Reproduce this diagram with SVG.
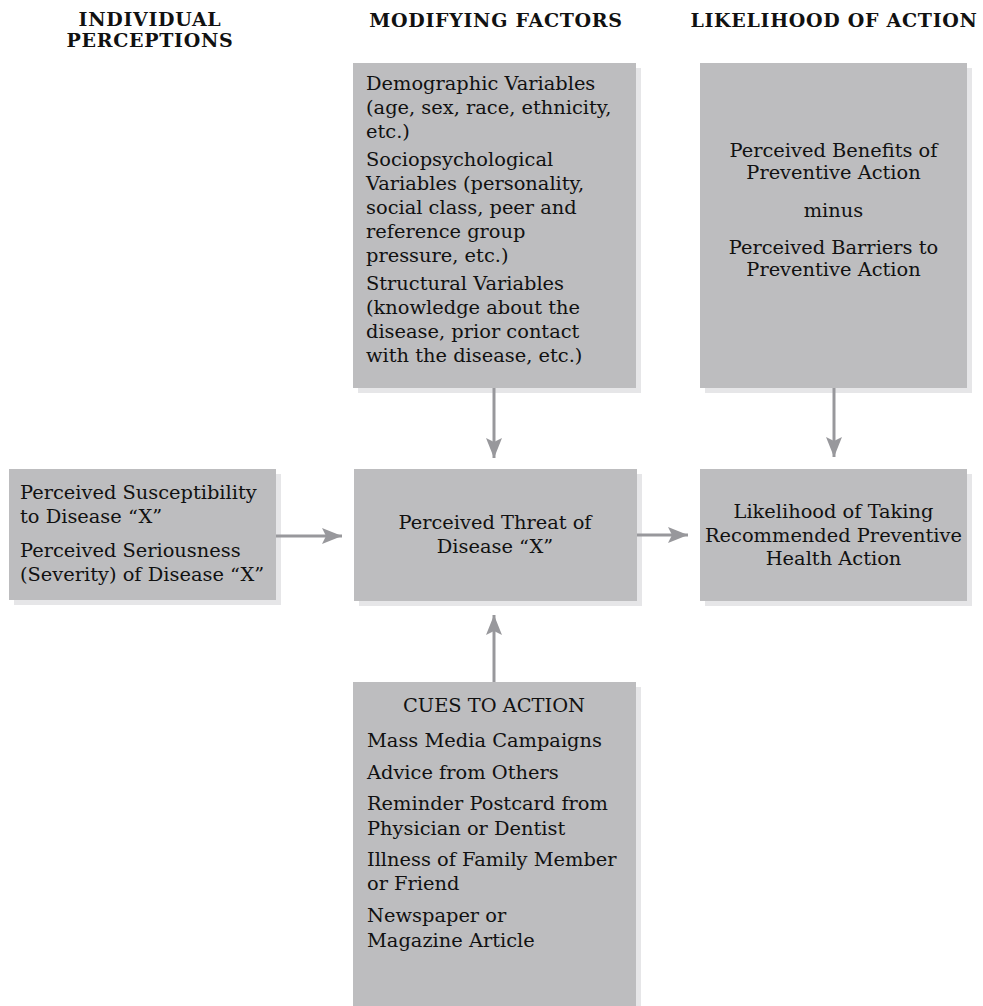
<svg xmlns="http://www.w3.org/2000/svg" width="983" height="1006" viewBox="0 0 983 1006">
<style>
.box{fill:#bdbdbf}
.shadow{fill:#e6e6e8}
.t{font-family:"DejaVu Serif","Liberation Serif",serif;font-size:19.4px;fill:#111}
.c{text-anchor:middle}
.h{font-family:"DejaVu Serif","Liberation Serif",serif;font-size:19px;font-weight:bold;fill:#111;text-anchor:middle;letter-spacing:0.7px}
.conn{stroke:#98989c;stroke-width:3;fill:none}
</style>
<defs>
<marker id="arr" markerUnits="userSpaceOnUse" markerWidth="21" markerHeight="17" refX="20" refY="8" orient="auto">
<path d="M0,0 L20,8 L0,16 L4,8 z" fill="#98989c"/>
</marker>
</defs>
<rect width="983" height="1006" fill="#fff"/>
<g id="headers">
<text class="h" x="150" y="26">INDIVIDUAL</text>
<text class="h" x="150" y="47">PERCEPTIONS</text>
<text class="h" x="496" y="27">MODIFYING FACTORS</text>
<text class="h" x="834" y="27">LIKELIHOOD OF ACTION</text>
</g>
<g id="modifying-factors">
<rect class="shadow" x="358" y="68" width="283" height="325"/>
<rect class="box" x="353" y="63" width="283" height="325"/>
<text class="t" x="366" y="90">Demographic Variables</text>
<text class="t" x="366" y="114">(age, sex, race, ethnicity,</text>
<text class="t" x="366" y="138">etc.)</text>
<text class="t" x="366" y="166">Sociopsychological</text>
<text class="t" x="366" y="190">Variables (personality,</text>
<text class="t" x="366" y="214">social class, peer and</text>
<text class="t" x="366" y="238">reference group</text>
<text class="t" x="366" y="262">pressure, etc.)</text>
<text class="t" x="366" y="290">Structural Variables</text>
<text class="t" x="366" y="314">(knowledge about the</text>
<text class="t" x="366" y="338">disease, prior contact</text>
<text class="t" x="366" y="362">with the disease, etc.)</text>
</g>
<g id="benefits-barriers">
<rect class="shadow" x="705" y="68" width="267" height="325"/>
<rect class="box" x="700" y="63" width="267" height="325"/>
<text class="t c" x="833.5" y="157">Perceived Benefits of</text>
<text class="t c" x="833.5" y="179">Preventive Action</text>
<text class="t c" x="833.5" y="217">minus</text>
<text class="t c" x="833.5" y="254">Perceived Barriers to</text>
<text class="t c" x="833.5" y="276">Preventive Action</text>
</g>
<g id="individual-perceptions">
<rect class="shadow" x="14" y="474" width="267" height="131"/>
<rect class="box" x="9" y="469" width="267" height="131"/>
<text class="t" x="20" y="499">Perceived Susceptibility</text>
<text class="t" x="20" y="523">to Disease “X”</text>
<text class="t" x="20" y="557">Perceived Seriousness</text>
<text class="t" x="20" y="581">(Severity) of Disease “X”</text>
</g>
<g id="perceived-threat">
<rect class="shadow" x="359" y="474" width="283" height="132"/>
<rect class="box" x="354" y="469" width="283" height="132"/>
<text class="t c" x="495" y="529">Perceived Threat of</text>
<text class="t c" x="495" y="553">Disease “X”</text>
</g>
<g id="likelihood">
<rect class="shadow" x="705" y="474" width="267" height="132"/>
<rect class="box" x="700" y="469" width="267" height="132"/>
<text class="t c" x="833.5" y="518">Likelihood of Taking</text>
<text class="t c" x="833.5" y="542">Recommended Preventive</text>
<text class="t c" x="833.5" y="565">Health Action</text>
</g>
<g id="cues">
<rect class="shadow" x="358" y="687" width="283" height="330"/>
<rect class="box" x="353" y="682" width="283" height="330"/>
<text class="t c" x="494" y="712">CUES  TO ACTION</text>
<text class="t" x="367" y="747">Mass Media Campaigns</text>
<text class="t" x="367" y="779">Advice from Others</text>
<text class="t" x="367" y="810">Reminder Postcard from</text>
<text class="t" x="367" y="835">Physician or Dentist</text>
<text class="t" x="367" y="866">Illness of Family Member</text>
<text class="t" x="367" y="890">or Friend</text>
<text class="t" x="367" y="922">Newspaper or</text>
<text class="t" x="367" y="947">Magazine Article</text>
</g>
<g id="connectors">
<line class="conn" x1="494" y1="388" x2="494" y2="458" marker-end="url(#arr)"/>
<line class="conn" x1="834" y1="388" x2="834" y2="457" marker-end="url(#arr)"/>
<line class="conn" x1="276" y1="536" x2="342" y2="536" marker-end="url(#arr)"/>
<line class="conn" x1="637" y1="535" x2="688" y2="535" marker-end="url(#arr)"/>
<line class="conn" x1="494" y1="682" x2="494" y2="615" marker-end="url(#arr)"/>
</g>
</svg>
